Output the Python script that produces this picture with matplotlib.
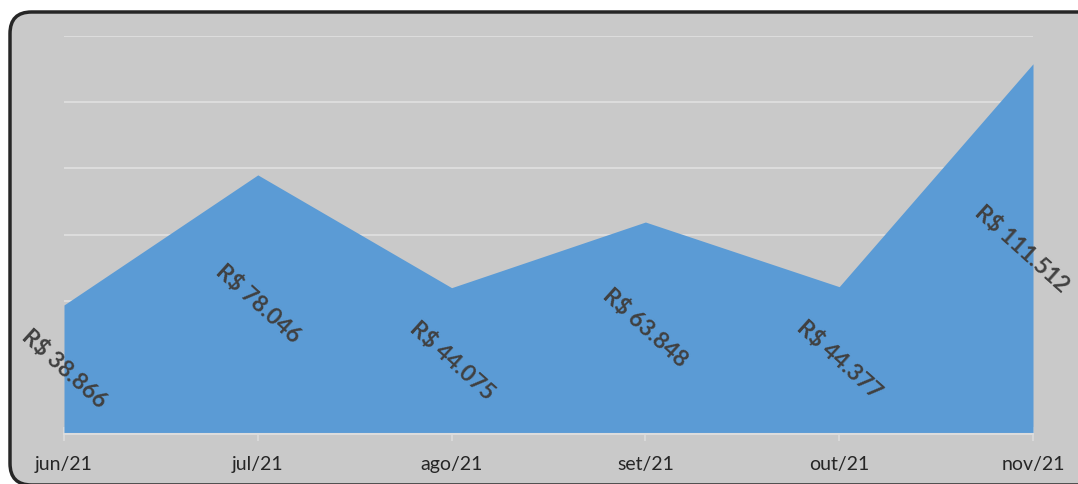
import matplotlib
matplotlib.use('Agg')
import matplotlib.pyplot as plt
from matplotlib.patches import FancyBboxPatch

meses = ['jun/21', 'jul/21', 'ago/21', 'set/21', 'out/21', 'nov/21']
valores = [38866, 78046, 44075, 63848, 44377, 111512]

plt.rcParams['font.family'] = ['Lato', 'DejaVu Sans']

W, H = 1078, 484
fig = plt.figure(figsize=(W / 100, H / 100), dpi=100)
fig.patch.set_facecolor('white')

# moldura arredondada
caixa = FancyBboxPatch((10 / W, -1 / H), 1.2, 1 - 11 / H,
                       boxstyle='round,pad=0,rounding_size=0.02',
                       transform=fig.transFigure, facecolor='#C9C9C9',
                       edgecolor='#262626', linewidth=2.5,
                       mutation_aspect=W / H, zorder=-10)
fig.patches.append(caixa)

ax = fig.add_axes([64 / W, 50 / H, (1033 - 64) / W, (434 - 35.6) / H])
ax.set_facecolor('none')

x = list(range(len(meses)))
ax.fill_between(x, 0, valores, color='#5B9BD5', linewidth=0, zorder=2)

ax.set_xlim(0, len(meses) - 1)
ax.set_ylim(0, 120000)
ax.set_yticks(range(20000, 120001, 20000))
ax.yaxis.grid(True, color='#DCDCDC', linewidth=1.5)
ax.set_axisbelow(True)
ax.tick_params(axis='y', left=False, labelleft=False)

ax.set_xticks(x)
ax.set_xticklabels(meses, fontsize=14, color='#262626')
ax.tick_params(axis='x', direction='inout', length=10, width=1.2,
               color='#DCDCDC', pad=11)

for s in ['top', 'left', 'right']:
    ax.spines[s].set_visible(False)
ax.spines['bottom'].set_color('#DCDCDC')
ax.spines['bottom'].set_linewidth(1.5)
ax.spines['bottom'].set_zorder(3)

# rótulos no meio da área; o último puxado um pouco para dentro
for i, v in enumerate(valores):
    rotulo = 'R$ ' + f'{v:,}'.replace(',', '.')
    dx = -8 if i == len(valores) - 1 else 0
    ax.annotate(rotulo, (i, v / 2), xytext=(dx, 0), textcoords='offset points',
                rotation=-42, rotation_mode='anchor', ha='center', va='center',
                fontsize=16.5, color='#404040', fontweight='bold', zorder=4,
                annotation_clip=False)

fig.savefig('out.png', dpi=100)
